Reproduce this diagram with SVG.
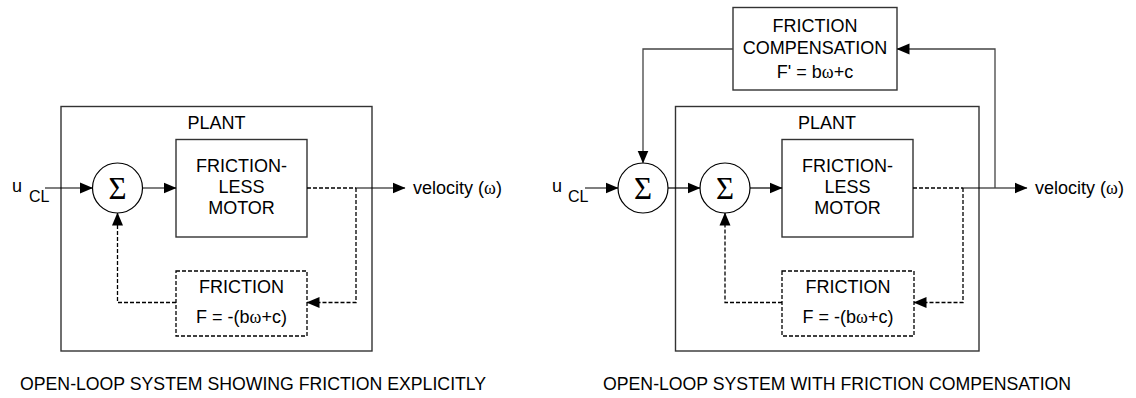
<svg xmlns="http://www.w3.org/2000/svg" width="1136" height="398" viewBox="0 0 1136 398">
  <defs>
    <marker id="arrow" markerUnits="userSpaceOnUse" markerWidth="13" markerHeight="12" viewBox="0 0 13 12" refX="12.5" refY="6" orient="auto">
      <path d="M0,0.5 L13,6 L0,11.5 Z" fill="#000"/>
    </marker>
  </defs>
  <style>
    text { font-family: "Liberation Sans", Arial, sans-serif; font-size: 18px; fill: #000; }
    .mid { text-anchor: middle; }
    .sub { font-size: 16px; }
    .sym { font-family: "Liberation Serif", "Times New Roman", serif; }
    .sigma { font-family: "Liberation Serif", "Times New Roman", serif; font-size: 31px; text-anchor: middle; }
    .caption { font-size: 17.7px; }
    .box { fill: #fff; stroke: #333; stroke-width: 1.4; }
    .dbox { fill: #fff; stroke: #000; stroke-width: 1.3; stroke-dasharray: 4 2; }
    .sum { fill: #fff; stroke: #000; stroke-width: 1.2; }
    .wire { fill: none; stroke: #000; stroke-width: 1.2; }
    .dash { fill: none; stroke: #000; stroke-width: 1.3; stroke-dasharray: 4 2; }
    .gwire { fill: none; stroke: #444; stroke-width: 1.3; }
  </style>

  <!-- ===== Left: open-loop system with friction shown explicitly ===== -->
  <g id="plant-left">
    <rect class="box" x="61" y="106.5" width="311" height="244.5"/>
    <text class="mid" x="216.5" y="129">PLANT</text>
  </g>
  <g id="motor-left">
    <rect class="box" x="176" y="139.5" width="131" height="97.5"/>
    <text class="mid" x="241.5" y="172">FRICTION-</text>
    <text class="mid" x="241.5" y="193">LESS</text>
    <text class="mid" x="241.5" y="214">MOTOR</text>
  </g>
  <g id="friction-left">
    <rect class="dbox" x="176" y="271" width="131" height="65"/>
    <text class="mid" x="241.5" y="293">FRICTION</text>
    <text class="mid" x="241.5" y="323">F = -(b<tspan class="sym">ω</tspan>+c)</text>
  </g>
  <g id="sum-left">
    <circle class="sum" cx="117.5" cy="188" r="25"/>
    <text class="sigma" x="117.5" y="198.5">Σ</text>
  </g>
  <g id="labels-left">
    <text x="12" y="192">u</text>
    <text class="sub" x="29" y="202">CL</text>
    <text x="413" y="194">velocity (<tspan class="sym">ω</tspan>)</text>
    <text class="caption" x="20" y="390">OPEN-LOOP SYSTEM SHOWING FRICTION EXPLICITLY</text>
  </g>

  <!-- ===== Right: open-loop system with friction compensation ===== -->
  <g id="compensation">
    <rect class="box" x="733" y="7.5" width="164" height="82.5"/>
    <text class="mid" x="815" y="32">FRICTION</text>
    <text class="mid" x="815" y="54">COMPENSATION</text>
    <text class="mid" x="815" y="78">F' = b<tspan class="sym">ω</tspan>+c</text>
  </g>
  <g id="plant-right">
    <rect class="box" x="675.5" y="106.5" width="303.5" height="244.5"/>
    <text class="mid" x="827" y="129">PLANT</text>
  </g>
  <g id="motor-right">
    <rect class="box" x="782" y="139.5" width="131" height="97.5"/>
    <text class="mid" x="847.5" y="172">FRICTION-</text>
    <text class="mid" x="847.5" y="193">LESS</text>
    <text class="mid" x="847.5" y="214">MOTOR</text>
  </g>
  <g id="friction-right">
    <rect class="dbox" x="782" y="271" width="132" height="65"/>
    <text class="mid" x="848" y="293">FRICTION</text>
    <text class="mid" x="848" y="323">F = -(b<tspan class="sym">ω</tspan>+c)</text>
  </g>
  <g id="sum-outer">
    <circle class="sum" cx="643" cy="188" r="25"/>
    <text class="sigma" x="643" y="198.5">Σ</text>
  </g>
  <g id="sum-inner">
    <circle class="sum" cx="725" cy="188" r="25"/>
    <text class="sigma" x="725" y="198.5">Σ</text>
  </g>
  <g id="labels-right">
    <text x="552" y="192">u</text>
    <text class="sub" x="568" y="202">CL</text>
    <text x="1035" y="194">velocity (<tspan class="sym">ω</tspan>)</text>
    <text class="caption" x="603" y="390">OPEN-LOOP SYSTEM WITH FRICTION COMPENSATION</text>
  </g>

  <!-- ===== Connectors ===== -->
  <g id="connectors">
    <!-- left -->
    <path class="wire" d="M45,188 H92.5" marker-end="url(#arrow)"/>
    <path class="wire" d="M142.5,188 H176" marker-end="url(#arrow)"/>
    <path class="dash" d="M307,188 H356"/>
    <path class="wire" d="M356,188 H405" marker-end="url(#arrow)"/>
    <path class="dash" d="M356,188 V302.5 H307" marker-end="url(#arrow)"/>
    <path class="dash" d="M176,302.5 H117.5 V213" marker-end="url(#arrow)"/>
    <!-- right -->
    <path class="wire" d="M585,188 H618" marker-end="url(#arrow)"/>
    <path class="wire" d="M668,188 H700" marker-end="url(#arrow)"/>
    <path class="wire" d="M750,188 H782" marker-end="url(#arrow)"/>
    <path class="dash" d="M913,188 H963"/>
    <path class="wire" d="M963,188 H1027" marker-end="url(#arrow)"/>
    <path class="gwire" d="M995,188 V49 H897" marker-end="url(#arrow)"/>
    <path class="gwire" d="M733,49 H643 V163" marker-end="url(#arrow)"/>
    <path class="dash" d="M963,188 V302.5 H914" marker-end="url(#arrow)"/>
    <path class="dash" d="M782,302.5 H725 V213" marker-end="url(#arrow)"/>
  </g>
</svg>
